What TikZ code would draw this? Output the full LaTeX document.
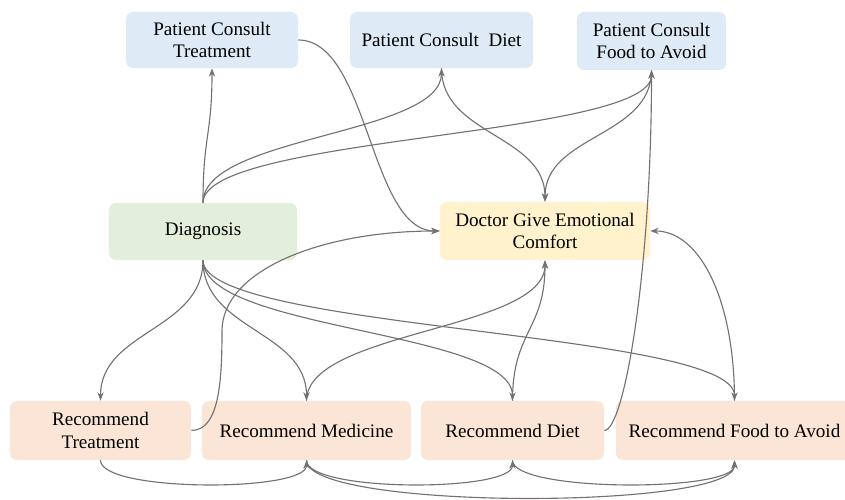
\documentclass[tikz,border=0pt]{standalone}
\usepackage{fontspec}
\setmainfont{Liberation Serif}
\usetikzlibrary{arrows.meta}
\definecolor{consult}{RGB}{222,234,246}
\definecolor{diagc}{RGB}{226,239,218}
\definecolor{comfort}{RGB}{255,242,204}
\definecolor{recomm}{RGB}{251,229,214}
\definecolor{linegray}{RGB}{117,113,113}
\begin{document}
\begin{tikzpicture}[x=0.025cm,y=0.025cm,
	box/.style={rounded corners=5pt,align=center,inner sep=0pt,font=\fontsize{13.6}{16.3}\selectfont}]
			\useasboundingbox (0,0) rectangle (845,499);

			% consultas del paciente
			\node[box,fill=consult,minimum width=4.3cm,minimum height=1.4cm] (pct) at (212,459) {Patient Consult\\Treatment};
			\node[box,fill=consult,minimum width=4.575cm,minimum height=1.4cm] (pcd) at (441.5,459) {Patient Consult\ \ Diet};
			\node[box,fill=consult,minimum width=3.725cm,minimum height=1.45cm] (pcf) at (651.5,458) {Patient Consult\\Food to Avoid};

			% centro
			\node[box,fill=diagc,minimum width=4.7cm,minimum height=1.425cm] (diag) at (203,267.5) {Diagnosis};
			\node[box,fill=comfort,minimum width=5.25cm,minimum height=1.45cm] (dgec) at (545,268) {Doctor Give Emotional\\Comfort};

			% recomendaciones
			\node[box,fill=recomm,minimum width=4.525cm,minimum height=1.475cm] (rt) at (100.5,68.5) {Recommend\\Treatment};
			\node[box,fill=recomm,minimum width=5.225cm,minimum height=1.475cm] (rm) at (306.5,68.5) {Recommend Medicine};
			\node[box,fill=recomm,minimum width=4.575cm,minimum height=1.475cm] (rd) at (512.5,68.5) {Recommend Diet};
			\node[box,fill=recomm,minimum width=5.925cm,minimum height=1.475cm] (rf) at (734.5,68.5) {Recommend Food to Avoid};

			\coordinate (bend) at (222,168);

			\begin{scope}[->,>={Stealth[length=6pt,width=4.5pt]},color=linegray,line width=0.8pt]
			% desde el diagnostico hacia arriba
			\draw (diag.north) .. controls +(0,67) and +(0,-67) .. (pct.south);
			\draw (diag.north) .. controls +(0,67) and +(0,-67) .. (pcd.south);
			\draw (diag.north) .. controls +(0,67) and +(0,-67) .. (pcf.south);

			% consultas hacia el consuelo
			\draw (pct.east) .. controls +(70,0) and +(-70,0) .. (dgec.west);
			\draw (pcd.south) .. controls +(0,-67) and +(0,67) .. (dgec.north);
			\draw (pcf.south) .. controls +(0,-67) and +(0,67) .. (dgec.north);

			% desde el diagnostico hacia abajo
			\draw (diag.south) .. controls +(0,-70) and +(0,70) .. (rt.north);
			\draw (diag.south) .. controls +(0,-70) and +(0,70) .. (rm.north);
			\draw (diag.south) .. controls +(0,-70) and +(0,70) .. (rd.north);
			\draw (diag.south) .. controls +(0,-70) and +(0,70) .. (rf.north);

			% recomendaciones hacia el consuelo
			\draw (rt.east) .. controls +(28,0) and +(0,-50) .. (bend) .. controls +(0,60) and +(-120,0) .. (dgec.west);
			\draw (rm.north) .. controls +(0,70) and +(0,-70) .. (dgec.south);
			\draw (rd.north) .. controls +(0,70) and +(0,-70) .. (dgec.south);
			\draw (rf.north) .. controls +(0,100) and +(50,0) .. (dgec.east);
			\draw (rd.east) .. controls +(20,0) and +(0,-200) .. (pcf.south);

			% entre recomendaciones
			\draw (rt.south) .. controls +(0,-32) and +(0,-32) .. (rm.south);
			\draw (rm.south) .. controls +(0,-32) and +(0,-32) .. (rd.south);
			\draw (rm.south) .. controls +(0,-50) and +(0,-50) .. (rf.south);
			\draw (rd.south) .. controls +(0,-32) and +(0,-32) .. (rf.south);
			\end{scope}
		    \end{tikzpicture}
\end{document}
